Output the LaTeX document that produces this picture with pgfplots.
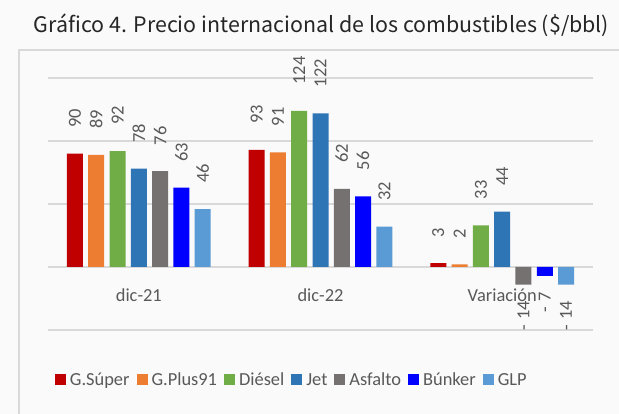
\documentclass[border=0pt]{standalone}
\usepackage{pgfplots}
\pgfplotsset{compat=1.18}
\usepackage{pgfplotstable}
\usepackage{fontspec}
\setmainfont{Carlito}
\newfontfamily\titlefont{Noto Sans CJK JP}
\definecolor{gsuper}{HTML}{C00000}
\definecolor{gplus}{HTML}{ED7D31}
\definecolor{diesel}{HTML}{70AD47}
\definecolor{jet}{HTML}{2E75B6}
\definecolor{asfalto}{HTML}{767171}
\definecolor{bunker}{HTML}{0000FF}
\definecolor{glp}{HTML}{5B9BD5}
\definecolor{labgray}{HTML}{595959}
\definecolor{gridgray}{HTML}{D9D9D9}
\definecolor{bg}{HTML}{FAFAFA}
\pgfplotstableread{
x s1 s2 s3 s4 s5 s6 s7
0 90 89 92 78 76 63 46
1 93 91 124 122 62 56 32
2 3 2 33 44 -14 -7 -14
}\datatab
\newcommand\lfont{\fontsize{18.4bp}{20bp}\selectfont}
\begin{document}
\begin{tikzpicture}
\clip (0bp,0bp) rectangle (619bp,414bp);
\fill[bg] (0bp,0bp) rectangle (619bp,414bp);
\draw[gridgray, line width=1.5bp] (19bp,-10bp) -- (19bp,364bp) -- (640bp,364bp);
\node[anchor=base, inner sep=0pt, font=\titlefont\fontsize{21.4bp}{24bp}\selectfont, text=black!85] at (321.5bp,381bp) {Gráfico 4. Precio internacional de los combustibles (\$/bbl)};
\begin{axis}[
  at={(48bp,84bp)}, anchor=south west,
  scale only axis, width=545bp, height=252bp,
  xmin=-0.5, xmax=2.5, ymin=-50, ymax=150,
  ybar=5.3bp, bar width=16bp,
  xtick={0,1,2}, xticklabels={dic-21,dic-22,Variación},
  xticklabel style={anchor=center, yshift=35bp, font=\lfont, text=labgray},
  ytick={-50,0,50,100,150}, yticklabels={},
  ymajorgrids, grid style={gridgray, line width=1.3bp},
  major tick length=0pt,
  axis line style={draw=none},
  clip=false,
  visualization depends on={y \as \rawy},
  nodes near coords={\pgfmathtruncatemacro\vv{abs(\rawy)}\ifdim\rawy pt<0pt\makebox[0pt][r]{-\hspace{5bp}\vv\hspace{17bp}}\else\hspace{26bp}\vv\fi},
  every node near coord/.append style={rotate=90, anchor=west, inner sep=0pt, font=\lfont, text=labgray},
  legend columns=-1,
  legend style={at={(0.0128,-0.1984)}, anchor=west, draw=none, fill=none, inner sep=0pt, outer sep=0pt, font=\lfont, text=labgray, nodes={inner sep=0pt, outer sep=0pt}, /tikz/every odd column/.append style={column sep=4bp}, /tikz/every even column/.append style={column sep=7bp}},
  legend image code/.code={\fill[#1,draw=none] (0bp,-5.5bp) rectangle (11bp,5.5bp);},
]
\addplot[fill=gsuper, draw=none] table[x=x,y=s1] {\datatab};
\addplot[fill=gplus, draw=none] table[x=x,y=s2] {\datatab};
\addplot[fill=diesel, draw=none] table[x=x,y=s3] {\datatab};
\addplot[fill=jet, draw=none] table[x=x,y=s4] {\datatab};
\addplot[fill=asfalto, draw=none] table[x=x,y=s5] {\datatab};
\addplot[fill=bunker, draw=none] table[x=x,y=s6] {\datatab};
\addplot[fill=glp, draw=none] table[x=x,y=s7] {\datatab};
\legend{G.Súper,G.Plus91,Diésel,Jet,Asfalto,Búnker,GLP}
\end{axis}
\end{tikzpicture}
\end{document}
